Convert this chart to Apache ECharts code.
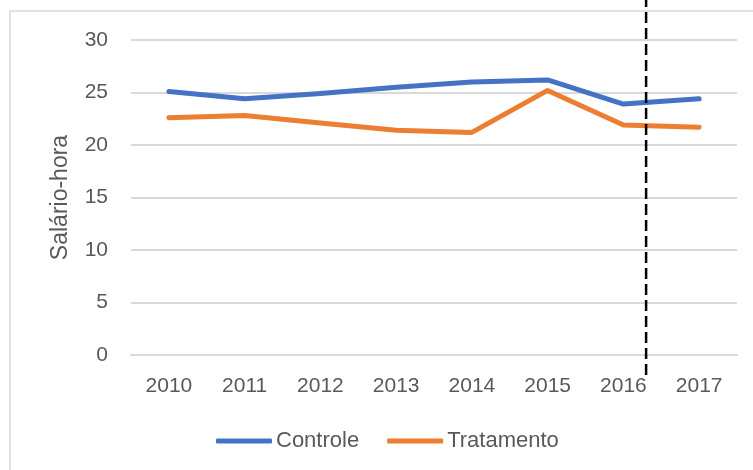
<!DOCTYPE html>
<html>
<head>
<meta charset="utf-8">
<script src="https://cdn.jsdelivr.net/npm/echarts@6/dist/echarts.min.js"></script>
<style>
html,body{margin:0;padding:0;background:#fff;}
#chart{width:753px;height:470px;}
</style>
</head>
<body>
<div id="chart"></div>
<script>
// dados
var anos = ['2010','2011','2012','2013','2014','2015','2016','2017'];
var controle = [25.1, 24.4, 24.9, 25.5, 26.0, 26.2, 23.9, 24.4];
var tratamento = [22.6, 22.8, 22.1, 21.4, 21.2, 25.2, 21.9, 21.7];
var yTicks = [0, 5, 10, 15, 20, 25, 30];
// linha tracejada (posicao em indice de categoria, faixa em valores do eixo y)
var corteX = [6.3, 6.3];
var corteY = [-1.9, 33.8];

var cinza = '#595959';
var fonte = '"Liberation Sans", Arial, sans-serif';

var myChart = echarts.init(document.getElementById('chart'));
var option = {
	animation: false,
	backgroundColor: '#fff',
	graphic: [{
		type: 'rect',
		shape: {x: 10, y: 11, width: 780, height: 500},
		style: {fill: 'none', stroke: '#d9d9d9', lineWidth: 1.5},
		silent: true
	}],
	grid: {left: 131, right: 16, top: 40, bottom: 115},
	legend: {
		data: ['Controle', 'Tratamento'],
		left: 211,
		top: 425,
		icon: 'roundRect',
		itemWidth: 56,
		itemHeight: 5,
		itemGap: 28,
		textStyle: {fontFamily: fonte, fontSize: 22, color: cinza, padding: [0, 0, 0, -1]}
	},
	xAxis: [{
		type: 'category',
		data: anos,
		boundaryGap: true,
		axisLine: {show: true, lineStyle: {color: '#d9d9d9', width: 2}},
		axisTick: {show: false},
		axisLabel: {margin: 21, fontFamily: fonte, fontSize: 21, color: cinza}
	}, {
		type: 'value',
		min: -0.5,
		max: 7.5,
		show: false
	}],
	yAxis: {
		type: 'value',
		min: yTicks[0],
		max: yTicks[yTicks.length - 1],
		interval: 5,
		name: 'Salário-hora',
		nameLocation: 'middle',
		nameGap: 59,
		nameTextStyle: {fontFamily: fonte, fontSize: 23, color: cinza},
		axisLine: {show: false},
		axisTick: {show: false},
		axisLabel: {margin: 23, fontFamily: fonte, fontSize: 21, color: cinza},
		splitLine: {lineStyle: {color: '#d9d9d9', width: 2}}
	},
	series: [{
		name: 'Controle',
		type: 'line',
		data: controle,
		symbol: 'none',
		color: '#4472C4',
		lineStyle: {width: 5, cap: 'round', join: 'round'},
		clip: false
	}, {
		name: 'Tratamento',
		type: 'line',
		data: tratamento,
		symbol: 'none',
		color: '#ED7D31',
		lineStyle: {width: 5, cap: 'round', join: 'round'},
		clip: false
	}, {
		name: 'corte',
		type: 'line',
		xAxisIndex: 1,
		data: [[corteX[0], corteY[0]], [corteX[1], corteY[1]]],
		symbol: 'none',
		color: '#000',
		lineStyle: {width: 2.5, type: [11, 5]},
		clip: false,
		z: 5
	}]
};
myChart.setOption(option);
</script>
</body>
</html>
